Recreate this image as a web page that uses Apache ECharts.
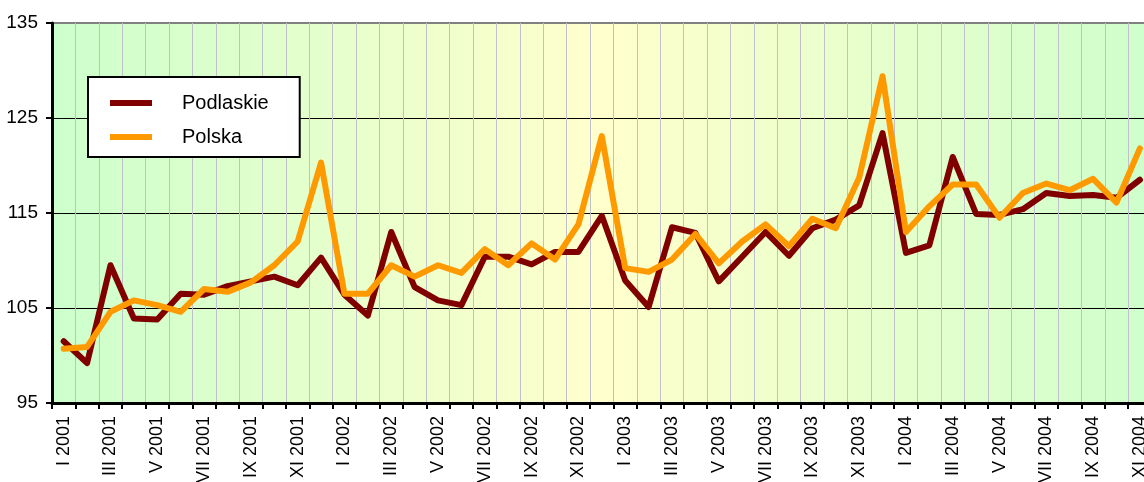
<!DOCTYPE html>
<html>
<head>
<meta charset="utf-8">
<script src="https://cdn.jsdelivr.net/npm/echarts@6/dist/echarts.min.js"></script>
<style>
    html, body { margin: 0; padding: 0; background: #fff; overflow: hidden; width: 1144px; height: 482px; }
    /* wykres szerszy niż okno: ostatni miesiąc (XII 2004) wychodzi poza kadr */
    #chart { width: 1175px; height: 482px; }
</style>
</head>
<body>
<div id="chart"></div>
<script>
// miesiące i lata na osi X
var months = ['I', 'II', 'III', 'IV', 'V', 'VI', 'VII', 'VIII', 'IX', 'X', 'XI', 'XII'];
var years = [2001, 2002, 2003, 2004];
var seriesNames = ['Podlaskie', 'Polska'];
var podlaskie = [
    101.5, 99.2, 109.5, 103.9, 103.8, 106.5, 106.4, 107.3, 107.8, 108.3, 107.4, 110.3,
    106.4, 104.2, 113.0, 107.2, 105.8, 105.3, 110.4, 110.4, 109.6, 110.9, 110.9, 114.7,
    107.9, 105.1, 113.5, 112.9, 107.8, 110.4, 113.0, 110.5, 113.4, 114.3, 115.8, 123.4,
    110.8, 111.6, 120.9, 114.9, 114.8, 115.4, 117.1, 116.8, 116.9, 116.6, 118.5
];
var polska = [
    100.7, 100.9, 104.6, 105.8, 105.3, 104.6, 107.0, 106.7, 107.7, 109.5, 112.0, 120.3,
    106.5, 106.5, 109.5, 108.3, 109.5, 108.7, 111.2, 109.5, 111.8, 110.1, 113.8, 123.1,
    109.2, 108.8, 110.1, 112.8, 109.7, 112.0, 113.8, 111.5, 114.4, 113.4, 118.7, 129.4,
    113.0, 115.7, 118.0, 118.0, 114.5, 117.1, 118.1, 117.4, 118.6, 116.1, 121.8
];
var yTicks = [95, 105, 115, 125, 135];

var categories = [];
years.forEach(function (y) {
    months.forEach(function (m) {
        categories.push(m + ' ' + y);
    });
});

var chart = echarts.init(document.getElementById('chart'));
var font = '"Liberation Sans", Arial, sans-serif';

chart.setOption({
    animation: false,
    textStyle: { fontFamily: font },
    grid: {
        left: 52,
        top: 23,
        right: 0,
        bottom: 79,
        outerBoundsMode: 'none',
        show: true,
        borderColor: '#808080',
        borderWidth: 2,
        backgroundColor: new echarts.graphic.LinearGradient(0, 0, 1, 0, [
            { offset: 0, color: '#ccffcc' },
            { offset: 0.49, color: '#ffffcc' },
            { offset: 1, color: '#ccffcc' }
        ])
    },
    legend: {
        orient: 'vertical',
        left: 88,
        top: 77,
        data: seriesNames,
        icon: 'rect',
        itemWidth: 42,
        itemHeight: 6,
        itemGap: 12,
        backgroundColor: '#fff',
        borderColor: '#000',
        borderWidth: 2,
        borderRadius: 0,
        padding: [15, 31, 9, 22],
        textStyle: {
            fontFamily: font,
            fontSize: 20,
            lineHeight: 22,
            color: '#000',
            padding: [0, 0, 0, 25]
        }
    },
    xAxis: {
        type: 'category',
        boundaryGap: true,
        data: categories,
        axisLine: { lineStyle: { color: '#000', width: 3 } },
        axisTick: {
            show: true,
            interval: 0,
            length: 6,
            lineStyle: { color: '#000', width: 2 }
        },
        axisLabel: {
            interval: 1,
            rotate: 90,
            margin: 13,
            fontSize: 18,
            color: '#000',
            fontFamily: font
        },
        splitLine: {
            show: true,
            interval: 0,
            lineStyle: { color: '#c0c0c8', width: 1 }
        }
    },
    yAxis: {
        type: 'value',
        min: yTicks[0],
        max: yTicks[yTicks.length - 1],
        interval: 10,
        axisLine: { show: true, lineStyle: { color: '#000', width: 3 } },
        axisTick: {
            show: true,
            length: 6,
            lineStyle: { color: '#000', width: 2 }
        },
        axisLabel: {
            margin: 14,
            fontSize: 19,
            color: '#000',
            fontFamily: font
        },
        splitLine: {
            show: true,
            lineStyle: { color: ['#000', '#000', '#000', '#000', '#808080'], width: 1 }
        }
    },
    series: [{
        name: seriesNames[0],
        type: 'line',
        data: podlaskie,
        symbol: 'none',
        color: '#800000',
        lineStyle: { width: 6, color: '#800000', cap: 'round', join: 'round' }
    }, {
        name: seriesNames[1],
        type: 'line',
        data: polska,
        symbol: 'none',
        color: '#ff9900',
        lineStyle: { width: 6, color: '#ff9900', cap: 'round', join: 'round' }
    }]
});
</script>
</body>
</html>
